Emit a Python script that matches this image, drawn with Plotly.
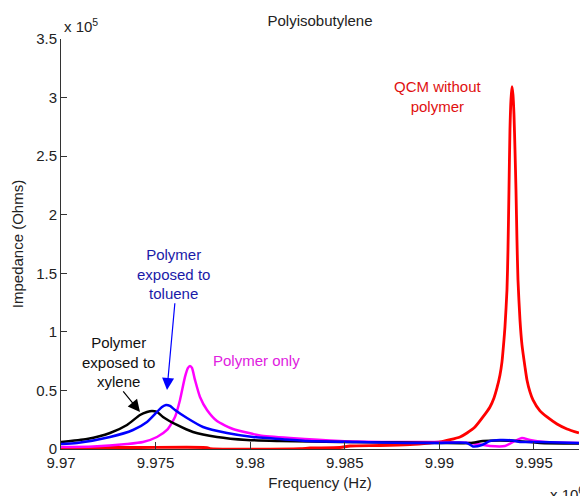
import plotly.graph_objects as go

# Impedance spectra of a QCM coated with polyisobutylene (frequency in Hz, impedance in Ohms)
freq_qcm = [9970000, 9972061, 9974175, 9977717, 9977875, 9982632, 9983160, 9984746,
            9985274, 9986860, 9988446, 9989503, 9990032, 9991089, 9991459, 9991882,
            9992304, 9992674, 9992886, 9993044, 9993203, 9993309, 9993414, 9993467,
            9993573, 9993626, 9993679, 9993731, 9993784, 9993837, 9993890, 9993943,
            9993996, 9994049, 9994101, 9994154, 9994260, 9994366, 9994524, 9994630,
            9994789, 9994947, 9995317, 9995687, 9996216, 9996744, 9997378]
imp_qcm = [1282, 1282, 1282, 1200, 300, 300, 855, 1282,
           2564, 2991, 3846, 5128, 5983, 10256, 13675, 18803,
           27350, 35897, 43590, 52137, 63248, 74359, 93162, 104273,
           135897, 170085, 221368, 272650, 298290, 309402, 302564, 285470,
           255556, 221368, 178632, 144444, 110256, 88889, 70085, 58974,
           48718, 41880, 32479, 27350, 21368, 17094, 13675]

freq_only = [9970000, 9971691, 9973488, 9974334, 9975074, 9975603, 9976025, 9976290,
             9976554, 9976712, 9976818, 9976924, 9977082, 9977347, 9977717, 9978245,
             9979091, 9980148, 9980518, 9982104, 9984746, 9987389, 9990032, 9991617,
             9992675, 9993467, 9993996, 9994366, 9994789, 9995581, 9997378]
imp_only = [1709, 2137, 4274, 5983, 10256, 16239, 27350, 41880,
            61538, 69231, 70940, 69231, 58974, 44444, 33333, 23932,
            17094, 12821, 11538, 9402, 6838, 5983, 5983, 5128,
            2564, 2564, 6838, 9402, 7692, 5983, 5128]

freq_xylene = [9970000, 9971374, 9972590, 9973488, 9974175, 9974545, 9974810, 9975074,
               9975391, 9976131, 9976977, 9978245, 9979831, 9981575, 9984746, 9987917,
               9990032, 9991617, 9992304, 9993203, 9994101, 9994789, 9995317, 9997378]
imp_xylene = [5983, 8547, 13675, 20513, 29060, 31624, 32479, 31624,
              27350, 20513, 14530, 10256, 7692, 6838, 5983, 5556,
              5128, 5128, 6838, 7265, 6838, 5983, 5128, 4701]

freq_toluene = [9970000, 9970846, 9972590, 9973805, 9974545, 9975074, 9975338, 9975550,
                9975761, 9976025, 9976660, 9977505, 9978774, 9980148, 9981205, 9983002,
                9985645, 9988288, 9990032, 9991459, 9991776, 9992251, 9992674, 9993203,
                9993890, 9994260, 9995317, 9997378]
imp_toluene = [4274, 5128, 10256, 16239, 23077, 31624, 35897, 37607,
               36752, 33333, 26496, 18803, 13675, 10256, 8974, 6838,
               5983, 5128, 5128, 5128, 2137, 3419, 6838, 7692,
               7265, 5983, 5983, 5128]

x_tick_labels = ["9.97", "9.975", "9.98", "9.985", "9.99", "9.995"]
y_tick_labels = ["0", "0.5", "1", "1.5", "2", "2.5", "3", "3.5"]

FONT = "Liberation Sans, Arial, sans-serif"
TEXT = "#222222"

fig = go.Figure()
for fx, iy, col, w in [
    (freq_qcm, imp_qcm, "#ff0000", 2.8),
    (freq_only, imp_only, "#ff00ff", 2.5),
    (freq_xylene, imp_xylene, "#000000", 2.5),
    (freq_toluene, imp_toluene, "#0000ff", 2.5),
]:
    fig.add_trace(go.Scatter(x=fx, y=iy, mode="lines",
                             line=dict(color=col, width=w, shape="spline", smoothing=0.6),
                             showlegend=False, hoverinfo="skip"))

axis_style = dict(showline=True, linecolor="#333333", linewidth=1, ticks="inside",
                  tickcolor="#333333", showgrid=False, zeroline=False, mirror=False,
                  tickfont=dict(family=FONT, size=15, color=TEXT))

fig.update_xaxes(range=[9970000, 9997380],
                 tickvals=[float(t) * 1e6 for t in x_tick_labels],
                 ticktext=x_tick_labels, ticklen=7,
                 title=dict(text="Frequency (Hz)", standoff=7,
                            font=dict(family=FONT, size=15, color=TEXT)),
                 **axis_style)
fig.update_yaxes(range=[0, 350000],
                 tickvals=[float(t) * 1e5 for t in y_tick_labels],
                 ticktext=y_tick_labels, ticklen=6,
                 title=dict(text="Impedance (Ohms)", standoff=8,
                            font=dict(family=FONT, size=15, color=TEXT)),
                 **axis_style)

annotations = [
    dict(text="QCM without<br>polymer", x=9989926, y=300855,
         font=dict(color="#e01010")),
    dict(text="Polymer<br>exposed to<br>toluene", x=9975972, y=149573,
         font=dict(color="#1a1aa8")),
    dict(text="Polymer<br>exposed to<br>xylene", x=9973013, y=74359,
         font=dict(color="#111111")),
    dict(text="Polymer only", x=9980359, y=75214,
         font=dict(color="#e020e0")),
]
for a in annotations:
    a["font"].update(family=FONT, size=15)
    fig.add_annotation(xref="x", yref="y", showarrow=False, **a)

# Pointer arrows to the solvent-exposed peaks
fig.add_annotation(xref="x", yref="y", axref="x", ayref="y", text="",
                   x=9975603, y=50427, ax=9976025, ay=125641,
                   showarrow=True, arrowhead=2, arrowsize=2.0, arrowwidth=1.2,
                   arrowcolor="#0000ff", standoff=0, startstandoff=0)
fig.add_annotation(xref="x", yref="y", axref="x", ayref="y", text="",
                   x=9974175, y=31624, ax=9973224, ay=50427,
                   showarrow=True, arrowhead=2, arrowsize=2.0, arrowwidth=1.2,
                   arrowcolor="#000000", standoff=0, startstandoff=0)

# Exponent labels for the scaled axes
fig.add_annotation(xref="paper", yref="paper", x=0.002, y=1.032, xanchor="left",
                   yanchor="middle", showarrow=False, text="x 10<sup>5</sup>",
                   font=dict(family=FONT, size=15, color=TEXT))
fig.add_annotation(xref="paper", yref="paper", x=0.94, y=-0.108, xanchor="left",
                   yanchor="middle", showarrow=False, text="x 10<sup>6</sup>",
                   font=dict(family=FONT, size=15, color=TEXT))

fig.update_layout(
    width=580, height=496,
    margin=dict(l=61, r=1, t=39, b=47),
    paper_bgcolor="white", plot_bgcolor="white",
    title=dict(text="Polyisobutylene", x=0.5, xref="paper", y=1 - 21 / 496,
               yanchor="middle", font=dict(family=FONT, size=15, color=TEXT)),
)

fig.write_html("out.html")
